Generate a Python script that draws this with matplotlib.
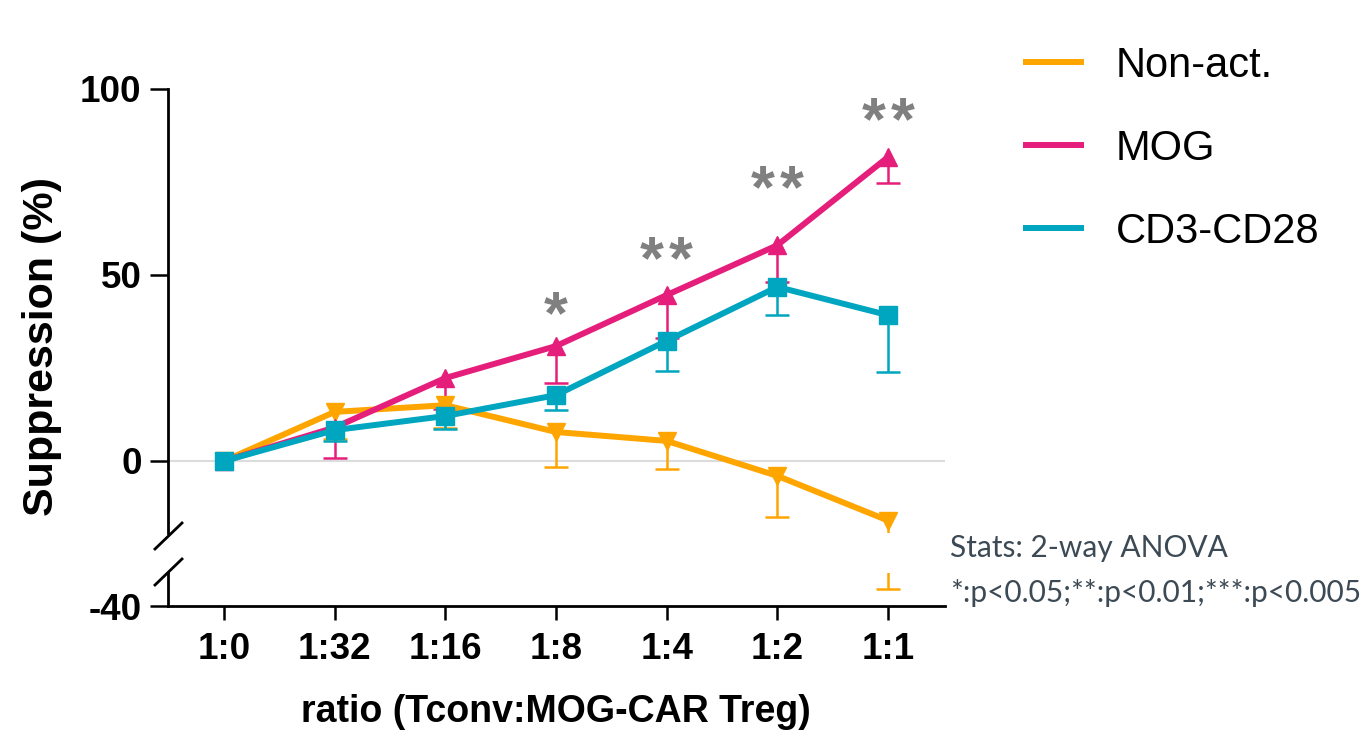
import matplotlib.pyplot as plt
from matplotlib.lines import Line2D

plt.rcParams['font.family'] = ['Liberation Sans', 'DejaVu Sans']

# suppression (%) per Tconv:Treg ratio, with the lower end of each error bar
ratios = ["1:0", "1:32", "1:16", "1:8", "1:4", "1:2", "1:1"]
nonact = [0, 13.2, 15.0, 7.8, 5.4, -4.0, -16.0]
nonact_low = [0, 5.9, 8.9, -1.6, -2.2, -15.0, -35.5]
mog = [0, 9.0, 22.3, 30.9, 44.6, 58.0, 81.7]
mog_low = [0, 0.8, 14.0, 21.0, 33.0, 48.0, 74.7]
cd3 = [0, 8.3, 12.1, 17.7, 32.3, 46.8, 39.2]
cd3_low = [0, 5.4, 8.6, 13.7, 24.2, 39.2, 23.9]

# significance marks (MOG vs the rest) and where they sit
stars = ["", "", "", "*", "**", "**", "**"]
star_y = [0, 0, 0, 34.3, 48.8, 68.1, 86.4]

series = [
    ("Non-act.", nonact, nonact_low, "#FFA500", "v"),
    ("MOG", mog, mog_low, "#E61E7B", "^"),
    ("CD3-CD28", cd3, cd3_low, "#00A5BF", "s"),
]

W, H = 1361, 731
fig = plt.figure(figsize=(W / 100, H / 100), dpi=100)

L = 168 / W
Wd = (945 - 168) / W
ax = fig.add_axes([L, 1 - 533 / H, Wd, (533 - 89) / H])
axb = fig.add_axes([L, 1 - 606 / H, Wd, (606 - 573) / H])

x = list(range(len(ratios)))
px = 3.72  # pixels per percent on both pieces
for a in (ax, axb):
    a.set_xlim(-0.506, 6.515)
    a.axhline(0, color="#dcdcdc", lw=1.5, zorder=0)
    for name, y, low, col, mk in series:
        a.vlines(x, low, y, color=col, lw=1.8, zorder=2)
        xs = [xi for xi, lo, yi in zip(x, low, y) if lo != yi]
        ls_ = [lo for lo, yi in zip(low, y) if lo != yi]
        a.plot(xs, ls_, ls="none", marker="_", ms=17, mew=1.8, color=col, zorder=2)
        a.plot(x, y, color=col, lw=4.3, marker=mk, ms=13, zorder=3)

ax.set_ylim(-(533 - 461) / px, 100)
axb.set_ylim(-40, -40 + (606 - 573) / px)

for s in ("top", "right", "bottom"):
    ax.spines[s].set_visible(False)
for s in ("top", "right"):
    axb.spines[s].set_visible(False)
for a in (ax, axb):
    for s in ("left", "bottom"):
        a.spines[s].set_linewidth(2)
    a.tick_params(axis="y", length=13, width=1.8, pad=6, labelsize=26.5)

ax.set_yticks([0, 50, 100])
ax.set_yticklabels(["0", "50", "100"], fontweight="bold")
ax.set_xticks([])
axb.set_yticks([-40])
axb.set_yticklabels(["-40"], fontweight="bold")
axb.set_xticks(x)
axb.set_xticklabels(ratios, fontweight="bold", fontsize=26.5)
axb.tick_params(axis="x", length=10, width=1.8, pad=9)

for xi, s, sy in zip(x, stars, star_y):
    if s:
        ax.text(xi, sy, "\u200a".join(s), ha="center", va="baseline", fontsize=44,
                fontweight="bold", color="#808080", clip_on=False)

# axis break marks
for yc in (536, 572):
    fig.add_artist(Line2D([155 / W, 182 / W], [1 - (yc + 13) / H, 1 - (yc - 13) / H],
                          color="black", lw=2))

fig.text(42 / W, 1 - 347 / H, "Suppression (%)", rotation=90, ha="center",
         va="center", fontsize=31, fontweight="bold")
fig.text(556 / W, 1 - 722 / H, "ratio (Tconv:MOG-CAR Treg)", ha="center",
         va="baseline", fontsize=27, fontweight="bold")

handles = [Line2D([], [], color=c, lw=4.3) for _, _, _, c, _ in series]
fig.legend(handles, [n for n, *_ in series], loc="upper left",
           bbox_to_anchor=(1026 / W, 1 - 46 / H), frameon=False, fontsize=30,
           handlelength=1.33, handletextpad=0.82, labelspacing=1.03,
           borderpad=0, borderaxespad=0)

fig.text(950 / W, 1 - 548 / H, "Stats: 2-way ANOVA", family=["Lato", "DejaVu Sans"],
         fontsize=21.5, color="#3c4a55", va="center")
fig.text(950 / W, 1 - 593 / H, "*:p<0.05;**:p<0.01;***:p<0.005",
         family=["Lato", "DejaVu Sans"], fontsize=21.5, color="#3c4a55", va="center")

fig.savefig("out.png", dpi=100)
